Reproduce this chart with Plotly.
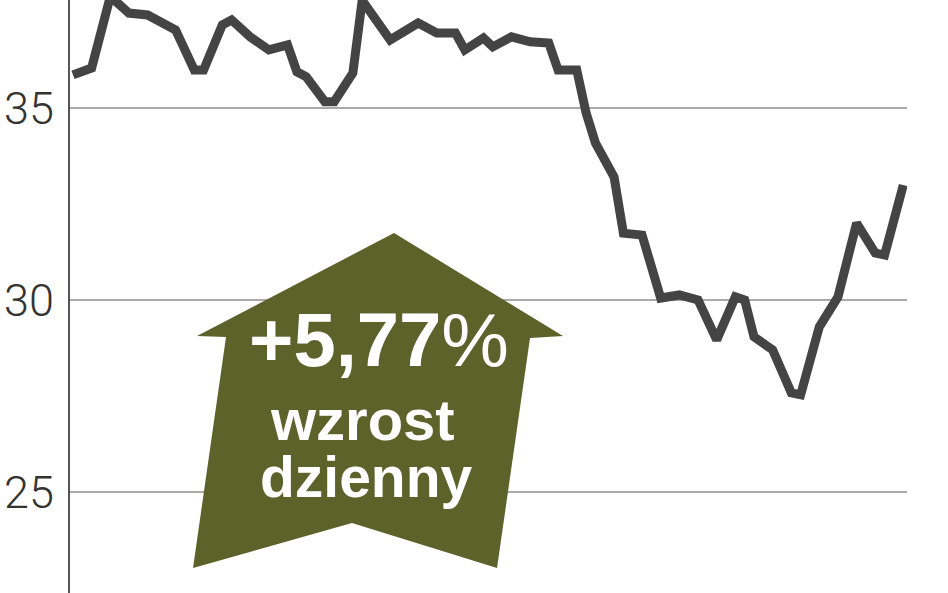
import plotly.graph_objects as go

# dzien (dni kalendarzowe od poczatku okresu) i kurs akcji
dzien = [0, 2, 4, 6, 8, 11, 13, 14, 16, 17, 19, 21, 23, 24, 25, 27, 28, 30, 31,
         34, 37, 39, 41, 42, 44, 45, 47, 49, 51, 52, 54, 55, 56, 58, 59, 61,
         63, 65, 67, 69, 71, 72, 73, 75, 77, 78, 80, 82, 84, 86, 87, 89]
kurs = [35.86, 36.04, 37.9, 37.47, 37.42, 37.03, 35.99, 35.99, 37.16, 37.29,
        36.85, 36.51, 36.64, 35.94, 35.81, 35.16, 35.16, 35.91, 37.8,
        36.77, 37.21, 36.95, 36.95, 36.51, 36.82, 36.59, 36.85, 36.72, 36.69,
        35.99, 35.99, 34.87, 34.09, 33.2, 31.74, 31.69,
        30.05, 30.13, 30.0, 28.96, 30.08, 30.0, 29.04, 28.7, 27.58, 27.53,
        29.3, 30.08, 32.0, 31.22, 31.17, 32.99]

tick_vals = [25, 30, 35]
tick_text = ["25", "30", "35"]

napis_zmiana = "<b>+5,77</b>%"
napis_1 = "<b>wzrost</b>"
napis_2 = "<b>dzienny</b>"

W, H = 948, 593
L, R = 70, 907  # granice obszaru wykresu w pikselach


def px(x):
    return (x - L) / (R - L)


def py(y):
    return (H - y) / H


fig = go.Figure()
fig.add_trace(go.Scatter(
    x=dzien, y=kurs, mode="lines",
    line=dict(color="#444444", width=9, shape="linear"),
    hoverinfo="skip",
))

# strzalka w gore
pts = [(394, 233), (563, 336), (530, 338), (497, 568), (352, 523),
       (193, 568), (226, 337), (197, 336)]
path = "M " + " L ".join(f"{px(a):.4f},{py(b):.4f}" for a, b in pts) + " Z"
fig.add_shape(type="path", xref="paper", yref="paper", path=path,
              fillcolor="#5b622a", line=dict(width=0), layer="above")

fnt = "Liberation Sans, Arial, sans-serif"
for txt, cx, cy, size in [(napis_zmiana, 379, 340, 76),
                          (napis_1, 362, 419, 58),
                          (napis_2, 366, 477, 57)]:
    fig.add_annotation(text=txt, xref="paper", yref="paper",
                       x=px(cx), y=py(cy), xanchor="center", yanchor="middle",
                       showarrow=False,
                       font=dict(family=fnt, size=size, color="white"))

fig.update_layout(
    width=W, height=H,
    margin=dict(l=L, r=W - R, t=0, b=0, pad=0),
    paper_bgcolor="white", plot_bgcolor="white",
    showlegend=False,
)
fig.update_xaxes(range=[-0.32, 89.4], showgrid=False, zeroline=False,
                 showticklabels=False, showline=False, automargin=False)
fig.update_yaxes(range=[22.37, 37.81], tickvals=tick_vals, ticktext=tick_text,
                 showgrid=True, gridcolor="#aaaaaa", gridwidth=2,
                 zeroline=False, showline=True, linecolor="#555555", linewidth=2,
                 ticks="", ticklabelstandoff=5, automargin=False,
                 tickfont=dict(family="Roboto", size=45, color="#333333", weight=300))

# bez marginesu strony, zeby wykres zaczynal sie w rogu okna
fig.write_html("out.html", config={"displayModeBar": False},
               post_script="document.body.style.margin='0';")
